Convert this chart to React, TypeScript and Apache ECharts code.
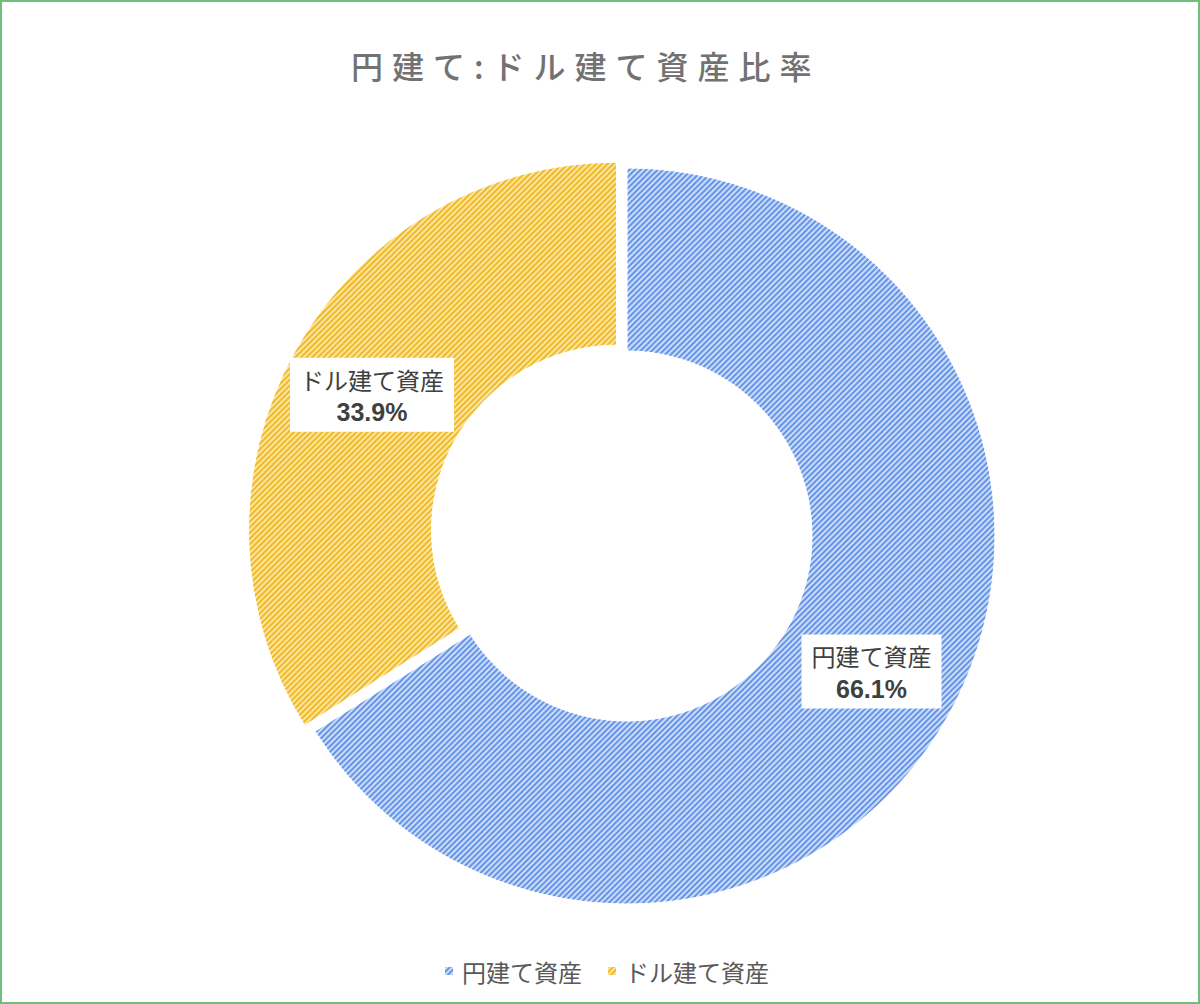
import React, { useEffect, useRef } from "react";
import * as echarts from "echarts";

const TITLE = "円建て:ドル建て資産比率";
const categories = ["円建て資産", "ドル建て資産"];
const values = [66.1, 33.9];
const baseColors = ["#cadcfa", "#fde4a2"];
const lineColors = ["#6795e6", "#efbb25"];

export default function App() {
  const ref = useRef<HTMLDivElement>(null);
  useEffect(() => {
    if (!ref.current) return;
    const chart = echarts.init(ref.current, undefined, { renderer: "svg" });
    const cjk = "'Noto Sans CJK JP', 'Noto Sans', sans-serif";
    const data = categories.map((name, i) => ({
      name,
      value: values[i],
      selected: i === 1,
      itemStyle: {
        color: baseColors[i],
        borderColor: "#ffffff",
        borderWidth: 1,
        decal: {
          symbol: "rect",
          symbolSize: 1,
          color: lineColors[i],
          dashArrayX: [1, 0],
          dashArrayY: [1.6, 1.3],
          rotation: -Math.PI / 4,
        },
      },
    }));
    chart.setOption({
      animation: false,
      aria: { enabled: true, decal: { show: true } },
      title: {
        text: TITLE,
        left: 346,
        top: 44,
        textStyle: {
          color: "#727272",
          fontSize: 32,
          fontWeight: 500,
          fontFamily: cjk,
        },
      },
      legend: {
        left: 438,
        top: 954,
        itemWidth: 10,
        itemHeight: 10,
        itemGap: 24,
        icon: "rect",
        data: categories,
        textStyle: { color: "#595959", fontSize: 24, fontFamily: cjk, padding: [0, 0, 0, 3] },
      },
      series: [
        {
          type: "pie",
          center: [627, 536],
          radius: [185, 368],
          startAngle: 90,
          clockwise: true,
          selectedMode: "single",
          selectedOffset: 12,
          emphasis: { disabled: true },
          label: {
            show: true,
            position: "inside",
            formatter: "{n|{b}}\n{v|{c}%}",
            backgroundColor: "#ffffff",
            padding: [5, 10, 3, 10],
            rich: {
              n: {
                fontFamily: cjk,
                fontSize: 24,
                color: "#404040",
                lineHeight: 33,
                align: "center",
              },
              v: {
                fontFamily: "'Liberation Sans', Arial, sans-serif",
                fontWeight: "bold",
                fontSize: 25,
                color: "#404040",
                lineHeight: 33,
                align: "center",
              },
            },
          },
          labelLine: { show: false },
          data,
        },
      ],
    });
    const texts = ref.current.querySelectorAll("text");
    texts.forEach((t) => {
      if (t.textContent === TITLE) t.setAttribute("letter-spacing", "9");
    });
    return () => chart.dispose();
  }, []);
  return (
    <div
      style={{
        position: "fixed",
        left: 0,
        top: 0,
        width: 1200,
        height: 1004,
        boxSizing: "border-box",
        border: "2px solid #6cbf7e",
        background: "#ffffff",
      }}
    >
      <div ref={ref} style={{ position: "absolute", left: -2, top: -2, width: 1200, height: 1004 }} />
    </div>
  );
}
